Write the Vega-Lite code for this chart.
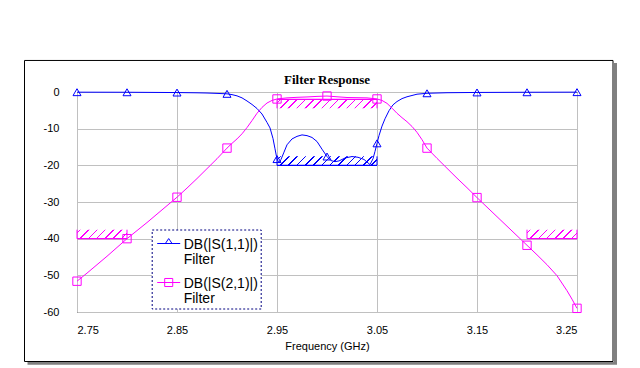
{
  "$schema": "https://vega.github.io/schema/vega-lite/v6.json",
  "width": 500,
  "height": 220,
  "autosize": "none",
  "padding": {"left": 77, "top": 92, "right": 63, "bottom": 56},
  "background": "white",
  "config": {"view": {"stroke": "black", "strokeWidth": 1}, "font": "Liberation Sans"},
  "title": {"text": "Filter Response", "font": "Liberation Serif", "fontSize": 13, "fontWeight": "bold", "color": "black", "anchor": "middle", "offset": 6, "dy": 33},
  "datasets": {
    "curves": [
      {"p": "DB(|S(1,1)|)", "f": 2.75, "db": -0.05},
      {"p": "DB(|S(1,1)|)", "f": 2.8, "db": -0.07},
      {"p": "DB(|S(1,1)|)", "f": 2.85, "db": -0.15},
      {"p": "DB(|S(1,1)|)", "f": 2.87, "db": -0.22},
      {"p": "DB(|S(1,1)|)", "f": 2.88, "db": -0.28},
      {"p": "DB(|S(1,1)|)", "f": 2.89, "db": -0.38},
      {"p": "DB(|S(1,1)|)", "f": 2.9, "db": -0.5},
      {"p": "DB(|S(1,1)|)", "f": 2.905, "db": -0.72},
      {"p": "DB(|S(1,1)|)", "f": 2.91, "db": -1.05},
      {"p": "DB(|S(1,1)|)", "f": 2.915, "db": -1.6},
      {"p": "DB(|S(1,1)|)", "f": 2.92, "db": -2.45},
      {"p": "DB(|S(1,1)|)", "f": 2.925, "db": -3.4},
      {"p": "DB(|S(1,1)|)", "f": 2.93, "db": -4.5},
      {"p": "DB(|S(1,1)|)", "f": 2.935, "db": -6.0},
      {"p": "DB(|S(1,1)|)", "f": 2.94, "db": -8.3},
      {"p": "DB(|S(1,1)|)", "f": 2.943, "db": -9.8},
      {"p": "DB(|S(1,1)|)", "f": 2.946, "db": -12.7},
      {"p": "DB(|S(1,1)|)", "f": 2.948, "db": -15.5},
      {"p": "DB(|S(1,1)|)", "f": 2.95, "db": -18.3},
      {"p": "DB(|S(1,1)|)", "f": 2.952, "db": -19.3},
      {"p": "DB(|S(1,1)|)", "f": 2.954, "db": -18.4},
      {"p": "DB(|S(1,1)|)", "f": 2.957, "db": -16.4},
      {"p": "DB(|S(1,1)|)", "f": 2.96, "db": -14.4},
      {"p": "DB(|S(1,1)|)", "f": 2.965, "db": -12.8},
      {"p": "DB(|S(1,1)|)", "f": 2.97, "db": -12.1},
      {"p": "DB(|S(1,1)|)", "f": 2.975, "db": -11.7},
      {"p": "DB(|S(1,1)|)", "f": 2.98, "db": -11.9},
      {"p": "DB(|S(1,1)|)", "f": 2.985, "db": -12.4},
      {"p": "DB(|S(1,1)|)", "f": 2.99, "db": -13.5},
      {"p": "DB(|S(1,1)|)", "f": 2.995, "db": -15.6},
      {"p": "DB(|S(1,1)|)", "f": 3, "db": -17.6},
      {"p": "DB(|S(1,1)|)", "f": 3.004, "db": -18.7},
      {"p": "DB(|S(1,1)|)", "f": 3.008, "db": -19.0},
      {"p": "DB(|S(1,1)|)", "f": 3.012, "db": -18.8},
      {"p": "DB(|S(1,1)|)", "f": 3.018, "db": -18.0},
      {"p": "DB(|S(1,1)|)", "f": 3.025, "db": -17.6},
      {"p": "DB(|S(1,1)|)", "f": 3.031, "db": -17.8},
      {"p": "DB(|S(1,1)|)", "f": 3.037, "db": -18.4},
      {"p": "DB(|S(1,1)|)", "f": 3.043, "db": -19.8},
      {"p": "DB(|S(1,1)|)", "f": 3.046, "db": -18.2},
      {"p": "DB(|S(1,1)|)", "f": 3.048, "db": -16.2},
      {"p": "DB(|S(1,1)|)", "f": 3.05, "db": -14.0},
      {"p": "DB(|S(1,1)|)", "f": 3.052, "db": -11.9},
      {"p": "DB(|S(1,1)|)", "f": 3.055, "db": -9.3},
      {"p": "DB(|S(1,1)|)", "f": 3.058, "db": -7.3},
      {"p": "DB(|S(1,1)|)", "f": 3.062, "db": -5.1},
      {"p": "DB(|S(1,1)|)", "f": 3.066, "db": -3.5},
      {"p": "DB(|S(1,1)|)", "f": 3.07, "db": -2.6},
      {"p": "DB(|S(1,1)|)", "f": 3.075, "db": -1.8},
      {"p": "DB(|S(1,1)|)", "f": 3.08, "db": -1.3},
      {"p": "DB(|S(1,1)|)", "f": 3.09, "db": -0.6},
      {"p": "DB(|S(1,1)|)", "f": 3.1, "db": -0.35},
      {"p": "DB(|S(1,1)|)", "f": 3.12, "db": -0.2},
      {"p": "DB(|S(1,1)|)", "f": 3.15, "db": -0.12},
      {"p": "DB(|S(1,1)|)", "f": 3.2, "db": -0.07},
      {"p": "DB(|S(1,1)|)", "f": 3.25, "db": -0.04},
      {"p": "DB(|S(2,1)|)", "f": 2.75, "db": -51.6},
      {"p": "DB(|S(2,1)|)", "f": 2.76, "db": -49.4},
      {"p": "DB(|S(2,1)|)", "f": 2.77, "db": -47.1},
      {"p": "DB(|S(2,1)|)", "f": 2.78, "db": -44.8},
      {"p": "DB(|S(2,1)|)", "f": 2.79, "db": -42.4},
      {"p": "DB(|S(2,1)|)", "f": 2.8, "db": -40.0},
      {"p": "DB(|S(2,1)|)", "f": 2.81, "db": -37.8},
      {"p": "DB(|S(2,1)|)", "f": 2.82, "db": -35.6},
      {"p": "DB(|S(2,1)|)", "f": 2.83, "db": -33.3},
      {"p": "DB(|S(2,1)|)", "f": 2.84, "db": -31.0},
      {"p": "DB(|S(2,1)|)", "f": 2.85, "db": -28.7},
      {"p": "DB(|S(2,1)|)", "f": 2.86, "db": -26.2},
      {"p": "DB(|S(2,1)|)", "f": 2.87, "db": -23.6},
      {"p": "DB(|S(2,1)|)", "f": 2.88, "db": -20.9},
      {"p": "DB(|S(2,1)|)", "f": 2.89, "db": -18.2},
      {"p": "DB(|S(2,1)|)", "f": 2.9, "db": -15.3},
      {"p": "DB(|S(2,1)|)", "f": 2.905, "db": -14.0},
      {"p": "DB(|S(2,1)|)", "f": 2.91, "db": -12.8},
      {"p": "DB(|S(2,1)|)", "f": 2.915, "db": -11.4},
      {"p": "DB(|S(2,1)|)", "f": 2.92, "db": -9.7},
      {"p": "DB(|S(2,1)|)", "f": 2.925, "db": -7.8},
      {"p": "DB(|S(2,1)|)", "f": 2.93, "db": -5.8},
      {"p": "DB(|S(2,1)|)", "f": 2.935, "db": -4.2},
      {"p": "DB(|S(2,1)|)", "f": 2.94, "db": -3.0},
      {"p": "DB(|S(2,1)|)", "f": 2.945, "db": -2.3},
      {"p": "DB(|S(2,1)|)", "f": 2.95, "db": -1.9},
      {"p": "DB(|S(2,1)|)", "f": 2.96, "db": -1.6},
      {"p": "DB(|S(2,1)|)", "f": 2.97, "db": -1.45},
      {"p": "DB(|S(2,1)|)", "f": 2.98, "db": -1.35},
      {"p": "DB(|S(2,1)|)", "f": 2.99, "db": -1.2},
      {"p": "DB(|S(2,1)|)", "f": 3, "db": -1.1},
      {"p": "DB(|S(2,1)|)", "f": 3.01, "db": -1.3},
      {"p": "DB(|S(2,1)|)", "f": 3.02, "db": -1.5},
      {"p": "DB(|S(2,1)|)", "f": 3.03, "db": -1.55},
      {"p": "DB(|S(2,1)|)", "f": 3.04, "db": -1.6},
      {"p": "DB(|S(2,1)|)", "f": 3.05, "db": -1.9},
      {"p": "DB(|S(2,1)|)", "f": 3.055, "db": -2.3},
      {"p": "DB(|S(2,1)|)", "f": 3.06, "db": -3.1},
      {"p": "DB(|S(2,1)|)", "f": 3.065, "db": -4.4},
      {"p": "DB(|S(2,1)|)", "f": 3.07, "db": -5.8},
      {"p": "DB(|S(2,1)|)", "f": 3.075, "db": -7.0},
      {"p": "DB(|S(2,1)|)", "f": 3.08, "db": -8.1},
      {"p": "DB(|S(2,1)|)", "f": 3.085, "db": -9.4},
      {"p": "DB(|S(2,1)|)", "f": 3.09, "db": -11.0},
      {"p": "DB(|S(2,1)|)", "f": 3.095, "db": -13.0},
      {"p": "DB(|S(2,1)|)", "f": 3.1, "db": -15.3},
      {"p": "DB(|S(2,1)|)", "f": 3.11, "db": -18.1},
      {"p": "DB(|S(2,1)|)", "f": 3.12, "db": -20.8},
      {"p": "DB(|S(2,1)|)", "f": 3.13, "db": -23.5},
      {"p": "DB(|S(2,1)|)", "f": 3.14, "db": -26.1},
      {"p": "DB(|S(2,1)|)", "f": 3.15, "db": -28.8},
      {"p": "DB(|S(2,1)|)", "f": 3.16, "db": -31.4},
      {"p": "DB(|S(2,1)|)", "f": 3.17, "db": -34.0},
      {"p": "DB(|S(2,1)|)", "f": 3.18, "db": -36.6},
      {"p": "DB(|S(2,1)|)", "f": 3.19, "db": -39.2},
      {"p": "DB(|S(2,1)|)", "f": 3.2, "db": -41.8},
      {"p": "DB(|S(2,1)|)", "f": 3.21, "db": -44.4},
      {"p": "DB(|S(2,1)|)", "f": 3.22, "db": -47.1},
      {"p": "DB(|S(2,1)|)", "f": 3.23, "db": -50.1},
      {"p": "DB(|S(2,1)|)", "f": 3.24, "db": -54.2},
      {"p": "DB(|S(2,1)|)", "f": 3.245, "db": -56.5},
      {"p": "DB(|S(2,1)|)", "f": 3.25, "db": -59.0}
    ],
    "goals": [
      {"g": "S21pass", "p": "DB(|S(2,1)|)", "f1": 2.95, "f2": 3.05, "lvl": -2, "edge": -4.45},
      {"g": "S11pass", "p": "DB(|S(1,1)|)", "f1": 2.95, "f2": 3.05, "lvl": -20, "edge": -17.55},
      {"g": "S21stop", "p": "DB(|S(2,1)|)", "f1": 2.75, "f2": 2.8, "lvl": -40, "edge": -37.55},
      {"g": "S21stop", "p": "DB(|S(2,1)|)", "f1": 3.2, "f2": 3.25, "lvl": -40, "edge": -37.55}
    ]
  },
  "layer": [
    {
      "data": {"values": [{}]},
      "mark": {"type": "rule", "stroke": "#808080", "strokeWidth": 3},
      "encoding": {
        "x": {"datum": 3.2885, "type": "quantitative", "scale": {"domain": [2.75, 3.25], "nice": false, "zero": false}},
        "y": {"datum": 7.9, "type": "quantitative", "scale": {"domain": [-60, 0], "nice": false, "zero": false},
          "axis": {"values": [-60, -50, -40, -30, -20, -10, 0], "labelExpr": "'' + datum.value", "grid": true, "gridColor": "#C0C0C0", "gridWidth": 1, "domain": false, "ticks": false, "labelFont": "Liberation Sans", "labelFontSize": 11, "labelColor": "black", "labelPadding": 18, "title": null}},
        "y2": {"datum": -73.9}
      }
    },
    {
      "data": {"values": [{}]},
      "mark": {"type": "rule", "stroke": "#808080", "strokeWidth": 3},
      "encoding": {
        "x": {"datum": 2.7005, "type": "quantitative", "scale": {"domain": [2.75, 3.25], "nice": false, "zero": false}},
        "x2": {"datum": 3.29},
        "y": {"datum": -73.95, "type": "quantitative", "scale": {"domain": [-60, 0], "nice": false, "zero": false},
          "axis": {"values": [-60, -50, -40, -30, -20, -10, 0], "labelExpr": "'' + datum.value", "grid": true, "gridColor": "#C0C0C0", "gridWidth": 1, "domain": false, "ticks": false, "labelFont": "Liberation Sans", "labelFontSize": 11, "labelColor": "black", "labelPadding": 18, "title": null}}
      }
    },
    {
      "data": {"values": [{}]},
      "mark": {"type": "rect", "fill": null, "stroke": "black", "strokeWidth": 1},
      "encoding": {
        "x": {"datum": 2.6975, "type": "quantitative", "scale": {"domain": [2.75, 3.25], "nice": false, "zero": false}},
        "x2": {"datum": 3.286},
        "y": {"datum": 8.6, "type": "quantitative", "scale": {"domain": [-60, 0], "nice": false, "zero": false},
          "axis": {"values": [-60, -50, -40, -30, -20, -10, 0], "labelExpr": "'' + datum.value", "grid": true, "gridColor": "#C0C0C0", "gridWidth": 1, "domain": false, "ticks": false, "labelFont": "Liberation Sans", "labelFontSize": 11, "labelColor": "black", "labelPadding": 18, "title": null}},
        "y2": {"datum": -73.5}
      }
    },
    {
      "data": {"name": "goals"},
      "transform": [{"filter": "datum.g === 'S21pass'"}],
      "mark": {"type": "rect", "strokeWidth": 0, "fill": {"gradient": "linear", "x1": 0, "y1": 0, "x2": 1.081, "y2": 0.0973, "stops": [
        {"offset": 0, "color": "rgba(255,0,255,0)"},
        {"offset": 0.028, "color": "rgba(255,0,255,0)"}, {"offset": 0.028, "color": "#FF00FF"}, {"offset": 0.042, "color": "#FF00FF"}, {"offset": 0.042, "color": "rgba(255,0,255,0)"},
        {"offset": 0.104, "color": "rgba(255,0,255,0)"}, {"offset": 0.104, "color": "#FF00FF"}, {"offset": 0.118, "color": "#FF00FF"}, {"offset": 0.118, "color": "rgba(255,0,255,0)"},
        {"offset": 0.180, "color": "rgba(255,0,255,0)"}, {"offset": 0.180, "color": "#FF00FF"}, {"offset": 0.194, "color": "#FF00FF"}, {"offset": 0.194, "color": "rgba(255,0,255,0)"},
        {"offset": 0.257, "color": "rgba(255,0,255,0)"}, {"offset": 0.257, "color": "#FF00FF"}, {"offset": 0.271, "color": "#FF00FF"}, {"offset": 0.271, "color": "rgba(255,0,255,0)"},
        {"offset": 0.333, "color": "rgba(255,0,255,0)"}, {"offset": 0.333, "color": "#FF00FF"}, {"offset": 0.347, "color": "#FF00FF"}, {"offset": 0.347, "color": "rgba(255,0,255,0)"},
        {"offset": 0.409, "color": "rgba(255,0,255,0)"}, {"offset": 0.409, "color": "#FF00FF"}, {"offset": 0.423, "color": "#FF00FF"}, {"offset": 0.423, "color": "rgba(255,0,255,0)"},
        {"offset": 0.485, "color": "rgba(255,0,255,0)"}, {"offset": 0.485, "color": "#FF00FF"}, {"offset": 0.499, "color": "#FF00FF"}, {"offset": 0.499, "color": "rgba(255,0,255,0)"},
        {"offset": 0.561, "color": "rgba(255,0,255,0)"}, {"offset": 0.561, "color": "#FF00FF"}, {"offset": 0.575, "color": "#FF00FF"}, {"offset": 0.575, "color": "rgba(255,0,255,0)"},
        {"offset": 0.638, "color": "rgba(255,0,255,0)"}, {"offset": 0.638, "color": "#FF00FF"}, {"offset": 0.652, "color": "#FF00FF"}, {"offset": 0.652, "color": "rgba(255,0,255,0)"},
        {"offset": 0.714, "color": "rgba(255,0,255,0)"}, {"offset": 0.714, "color": "#FF00FF"}, {"offset": 0.728, "color": "#FF00FF"}, {"offset": 0.728, "color": "rgba(255,0,255,0)"},
        {"offset": 0.790, "color": "rgba(255,0,255,0)"}, {"offset": 0.790, "color": "#FF00FF"}, {"offset": 0.804, "color": "#FF00FF"}, {"offset": 0.804, "color": "rgba(255,0,255,0)"},
        {"offset": 0.866, "color": "rgba(255,0,255,0)"}, {"offset": 0.866, "color": "#FF00FF"}, {"offset": 0.880, "color": "#FF00FF"}, {"offset": 0.880, "color": "rgba(255,0,255,0)"},
        {"offset": 0.942, "color": "rgba(255,0,255,0)"}, {"offset": 0.942, "color": "#FF00FF"}, {"offset": 0.956, "color": "#FF00FF"}, {"offset": 0.956, "color": "rgba(255,0,255,0)"},
        {"offset": 1, "color": "rgba(255,0,255,0)"}
      ]}},
      "encoding": {
        "x": {"field": "f1", "type": "quantitative", "scale": {"domain": [2.75, 3.25], "nice": false, "zero": false}},
        "x2": {"field": "f2"},
        "y": {"field": "lvl", "type": "quantitative", "scale": {"domain": [-60, 0], "nice": false, "zero": false},
          "axis": {"values": [-60, -50, -40, -30, -20, -10, 0], "labelExpr": "'' + datum.value", "grid": true, "gridColor": "#C0C0C0", "gridWidth": 1, "domain": false, "ticks": false, "labelFont": "Liberation Sans", "labelFontSize": 11, "labelColor": "black", "labelPadding": 18, "title": null}},
        "y2": {"field": "edge"}
      }
    },
    {
      "data": {"name": "goals"},
      "transform": [{"filter": "datum.g === 'S11pass'"}],
      "mark": {"type": "rect", "strokeWidth": 0, "fill": {"gradient": "linear", "x1": 0, "y1": 0, "x2": 1.081, "y2": 0.0973, "stops": [
        {"offset": 0, "color": "rgba(0,0,255,0)"},
        {"offset": 0.028, "color": "rgba(0,0,255,0)"}, {"offset": 0.028, "color": "#0000FF"}, {"offset": 0.042, "color": "#0000FF"}, {"offset": 0.042, "color": "rgba(0,0,255,0)"},
        {"offset": 0.104, "color": "rgba(0,0,255,0)"}, {"offset": 0.104, "color": "#0000FF"}, {"offset": 0.118, "color": "#0000FF"}, {"offset": 0.118, "color": "rgba(0,0,255,0)"},
        {"offset": 0.180, "color": "rgba(0,0,255,0)"}, {"offset": 0.180, "color": "#0000FF"}, {"offset": 0.194, "color": "#0000FF"}, {"offset": 0.194, "color": "rgba(0,0,255,0)"},
        {"offset": 0.257, "color": "rgba(0,0,255,0)"}, {"offset": 0.257, "color": "#0000FF"}, {"offset": 0.271, "color": "#0000FF"}, {"offset": 0.271, "color": "rgba(0,0,255,0)"},
        {"offset": 0.333, "color": "rgba(0,0,255,0)"}, {"offset": 0.333, "color": "#0000FF"}, {"offset": 0.347, "color": "#0000FF"}, {"offset": 0.347, "color": "rgba(0,0,255,0)"},
        {"offset": 0.409, "color": "rgba(0,0,255,0)"}, {"offset": 0.409, "color": "#0000FF"}, {"offset": 0.423, "color": "#0000FF"}, {"offset": 0.423, "color": "rgba(0,0,255,0)"},
        {"offset": 0.485, "color": "rgba(0,0,255,0)"}, {"offset": 0.485, "color": "#0000FF"}, {"offset": 0.499, "color": "#0000FF"}, {"offset": 0.499, "color": "rgba(0,0,255,0)"},
        {"offset": 0.561, "color": "rgba(0,0,255,0)"}, {"offset": 0.561, "color": "#0000FF"}, {"offset": 0.575, "color": "#0000FF"}, {"offset": 0.575, "color": "rgba(0,0,255,0)"},
        {"offset": 0.638, "color": "rgba(0,0,255,0)"}, {"offset": 0.638, "color": "#0000FF"}, {"offset": 0.652, "color": "#0000FF"}, {"offset": 0.652, "color": "rgba(0,0,255,0)"},
        {"offset": 0.714, "color": "rgba(0,0,255,0)"}, {"offset": 0.714, "color": "#0000FF"}, {"offset": 0.728, "color": "#0000FF"}, {"offset": 0.728, "color": "rgba(0,0,255,0)"},
        {"offset": 0.790, "color": "rgba(0,0,255,0)"}, {"offset": 0.790, "color": "#0000FF"}, {"offset": 0.804, "color": "#0000FF"}, {"offset": 0.804, "color": "rgba(0,0,255,0)"},
        {"offset": 0.866, "color": "rgba(0,0,255,0)"}, {"offset": 0.866, "color": "#0000FF"}, {"offset": 0.880, "color": "#0000FF"}, {"offset": 0.880, "color": "rgba(0,0,255,0)"},
        {"offset": 0.942, "color": "rgba(0,0,255,0)"}, {"offset": 0.942, "color": "#0000FF"}, {"offset": 0.956, "color": "#0000FF"}, {"offset": 0.956, "color": "rgba(0,0,255,0)"},
        {"offset": 1, "color": "rgba(0,0,255,0)"}
      ]}},
      "encoding": {
        "x": {"field": "f1", "type": "quantitative", "scale": {"domain": [2.75, 3.25], "nice": false, "zero": false}},
        "x2": {"field": "f2"},
        "y": {"field": "edge", "type": "quantitative", "scale": {"domain": [-60, 0], "nice": false, "zero": false},
          "axis": {"values": [-60, -50, -40, -30, -20, -10, 0], "labelExpr": "'' + datum.value", "grid": true, "gridColor": "#C0C0C0", "gridWidth": 1, "domain": false, "ticks": false, "labelFont": "Liberation Sans", "labelFontSize": 11, "labelColor": "black", "labelPadding": 18, "title": null}},
        "y2": {"field": "lvl"}
      }
    },
    {
      "data": {"name": "goals"},
      "transform": [{"filter": "datum.g === 'S21stop'"}],
      "mark": {"type": "rect", "strokeWidth": 0, "fill": {"gradient": "linear", "x1": 0, "y1": 0, "x2": 1.143, "y2": 0.2057, "stops": [
        {"offset": 0, "color": "rgba(255,0,255,0)"},
        {"offset": 0.0473, "color": "rgba(255,0,255,0)"}, {"offset": 0.0473, "color": "#FF00FF"}, {"offset": 0.0727, "color": "#FF00FF"}, {"offset": 0.0727, "color": "rgba(255,0,255,0)"},
        {"offset": 0.188, "color": "rgba(255,0,255,0)"}, {"offset": 0.188, "color": "#FF00FF"}, {"offset": 0.2134, "color": "#FF00FF"}, {"offset": 0.2134, "color": "rgba(255,0,255,0)"},
        {"offset": 0.3287, "color": "rgba(255,0,255,0)"}, {"offset": 0.3287, "color": "#FF00FF"}, {"offset": 0.3541, "color": "#FF00FF"}, {"offset": 0.3541, "color": "rgba(255,0,255,0)"},
        {"offset": 0.4694, "color": "rgba(255,0,255,0)"}, {"offset": 0.4694, "color": "#FF00FF"}, {"offset": 0.4948, "color": "#FF00FF"}, {"offset": 0.4948, "color": "rgba(255,0,255,0)"},
        {"offset": 0.6101, "color": "rgba(255,0,255,0)"}, {"offset": 0.6101, "color": "#FF00FF"}, {"offset": 0.6355, "color": "#FF00FF"}, {"offset": 0.6355, "color": "rgba(255,0,255,0)"},
        {"offset": 0.7508, "color": "rgba(255,0,255,0)"}, {"offset": 0.7508, "color": "#FF00FF"}, {"offset": 0.7762, "color": "#FF00FF"}, {"offset": 0.7762, "color": "rgba(255,0,255,0)"},
        {"offset": 0.8915, "color": "rgba(255,0,255,0)"}, {"offset": 0.8915, "color": "#FF00FF"}, {"offset": 0.9169, "color": "#FF00FF"}, {"offset": 0.9169, "color": "rgba(255,0,255,0)"},
        {"offset": 1, "color": "rgba(255,0,255,0)"}
      ]}},
      "encoding": {
        "x": {"field": "f1", "type": "quantitative", "scale": {"domain": [2.75, 3.25], "nice": false, "zero": false}},
        "x2": {"field": "f2"},
        "y": {"field": "edge", "type": "quantitative", "scale": {"domain": [-60, 0], "nice": false, "zero": false},
          "axis": {"values": [-60, -50, -40, -30, -20, -10, 0], "labelExpr": "'' + datum.value", "grid": true, "gridColor": "#C0C0C0", "gridWidth": 1, "domain": false, "ticks": false, "labelFont": "Liberation Sans", "labelFontSize": 11, "labelColor": "black", "labelPadding": 18, "title": null}},
        "y2": {"field": "lvl"}
      }
    },
    {
      "data": {"name": "goals"},
      "mark": {"type": "rule", "strokeWidth": 1.3},
      "encoding": {
        "x": {"field": "f1", "type": "quantitative", "scale": {"domain": [2.75, 3.25], "nice": false, "zero": false}},
        "x2": {"field": "f2"},
        "y": {"field": "lvl", "type": "quantitative", "scale": {"domain": [-60, 0], "nice": false, "zero": false},
          "axis": {"values": [-60, -50, -40, -30, -20, -10, 0], "labelExpr": "'' + datum.value", "grid": true, "gridColor": "#C0C0C0", "gridWidth": 1, "domain": false, "ticks": false, "labelFont": "Liberation Sans", "labelFontSize": 11, "labelColor": "black", "labelPadding": 18, "title": null}},
        "color": {"field": "p", "type": "nominal", "scale": {"domain": ["DB(|S(1,1)|)", "DB(|S(2,1)|)"], "range": ["#0000FF", "#FF00FF"]}}
      }
    },
    {
      "data": {"name": "goals"},
      "mark": {"type": "rule", "strokeWidth": 1},
      "encoding": {
        "x": {"field": "f1", "type": "quantitative", "scale": {"domain": [2.75, 3.25], "nice": false, "zero": false}},
        "y": {"field": "lvl", "type": "quantitative", "scale": {"domain": [-60, 0], "nice": false, "zero": false},
          "axis": {"values": [-60, -50, -40, -30, -20, -10, 0], "labelExpr": "'' + datum.value", "grid": true, "gridColor": "#C0C0C0", "gridWidth": 1, "domain": false, "ticks": false, "labelFont": "Liberation Sans", "labelFontSize": 11, "labelColor": "black", "labelPadding": 18, "title": null}},
        "y2": {"field": "edge"},
        "color": {"field": "p", "type": "nominal", "scale": {"domain": ["DB(|S(1,1)|)", "DB(|S(2,1)|)"], "range": ["#0000FF", "#FF00FF"]}}
      }
    },
    {
      "data": {"name": "goals"},
      "mark": {"type": "rule", "strokeWidth": 1},
      "encoding": {
        "x": {"field": "f2", "type": "quantitative", "scale": {"domain": [2.75, 3.25], "nice": false, "zero": false}},
        "y": {"field": "lvl", "type": "quantitative", "scale": {"domain": [-60, 0], "nice": false, "zero": false},
          "axis": {"values": [-60, -50, -40, -30, -20, -10, 0], "labelExpr": "'' + datum.value", "grid": true, "gridColor": "#C0C0C0", "gridWidth": 1, "domain": false, "ticks": false, "labelFont": "Liberation Sans", "labelFontSize": 11, "labelColor": "black", "labelPadding": 18, "title": null}},
        "y2": {"field": "edge"},
        "color": {"field": "p", "type": "nominal", "scale": {"domain": ["DB(|S(1,1)|)", "DB(|S(2,1)|)"], "range": ["#0000FF", "#FF00FF"]}}
      }
    },
    {
      "data": {"name": "curves"},
      "mark": {"type": "line", "strokeWidth": 1},
      "encoding": {
        "x": {"field": "f", "type": "quantitative", "scale": {"domain": [2.75, 3.25], "nice": false, "zero": false},
          "axis": {"values": [2.75, 2.85, 2.95, 3.05, 3.15, 3.25], "format": ".2f", "grid": true, "gridColor": "#C0C0C0", "gridWidth": 1, "domain": false, "ticks": false, "labelFont": "Liberation Sans", "labelFontSize": 11, "labelColor": "black", "labelPadding": 12, "title": "Frequency (GHz)", "titleFont": "Liberation Sans", "titleFontSize": 11, "titleFontWeight": "normal", "titleColor": "black", "titlePadding": 5}},
        "y": {"field": "db", "type": "quantitative", "scale": {"domain": [-60, 0], "nice": false, "zero": false},
          "axis": {"values": [-60, -50, -40, -30, -20, -10, 0], "labelExpr": "'' + datum.value", "grid": true, "gridColor": "#C0C0C0", "gridWidth": 1, "domain": false, "ticks": false, "labelFont": "Liberation Sans", "labelFontSize": 11, "labelColor": "black", "labelPadding": 18, "title": null}},
        "color": {"field": "p", "type": "nominal", "scale": {"domain": ["DB(|S(1,1)|)", "DB(|S(2,1)|)"], "range": ["#0000FF", "#FF00FF"]},
          "legend": {"orient": "none", "legendX": 74.7, "legendY": 137.5, "title": null, "padding": 2, "symbolOffset": 3, "fillColor": "white", "strokeColor": "#000080", "symbolSize": 529, "symbolStrokeWidth": 1, "labelFont": "Liberation Sans", "labelFontSize": 14, "labelColor": "black", "labelOffset": 3, "rowPadding": 3, "labelExpr": "[datum.label, 'Filter']",
            "encode": {
              "symbols": {"update": {"shape": {"signal": "datum.value === 'DB(|S(1,1)|)' ? 'M-1,0H1M-0.29,0L0,-0.43L0.29,0Z' : 'M-1,0H1M-0.35,-0.35H0.35V0.35H-0.35Z'"}, "fill": {"value": "transparent"}, "strokeWidth": {"value": 1}}},
              "labels": {"update": {"lineHeight": {"value": 15}, "dy": {"value": 1.5}}},
              "legend": {"update": {"strokeDash": {"value": [2, 2]}, "strokeWidth": {"value": 1}}}
            }}}
      }
    },
    {
      "data": {"name": "curves"},
      "transform": [{"filter": "datum.p === 'DB(|S(1,1)|)'"}, {"filter": {"field": "f", "oneOf": [2.75, 2.8, 2.85, 2.9, 2.95, 3, 3.05, 3.1, 3.15, 3.2, 3.25]}}],
      "mark": {"type": "point", "shape": "triangle-up", "filled": false, "strokeWidth": 1, "size": 64, "opacity": 1},
      "encoding": {
        "x": {"field": "f", "type": "quantitative", "scale": {"domain": [2.75, 3.25], "nice": false, "zero": false}},
        "y": {"field": "db", "type": "quantitative", "scale": {"domain": [-60, 0], "nice": false, "zero": false},
          "axis": {"values": [-60, -50, -40, -30, -20, -10, 0], "labelExpr": "'' + datum.value", "grid": true, "gridColor": "#C0C0C0", "gridWidth": 1, "domain": false, "ticks": false, "labelFont": "Liberation Sans", "labelFontSize": 11, "labelColor": "black", "labelPadding": 18, "title": null}},
        "color": {"field": "p", "type": "nominal", "scale": {"domain": ["DB(|S(1,1)|)", "DB(|S(2,1)|)"], "range": ["#0000FF", "#FF00FF"]}}
      }
    },
    {
      "data": {"name": "curves"},
      "transform": [{"filter": "datum.p === 'DB(|S(2,1)|)'"}, {"filter": {"field": "f", "oneOf": [2.75, 2.8, 2.85, 2.9, 2.95, 3, 3.05, 3.1, 3.15, 3.2, 3.25]}}],
      "mark": {"type": "point", "shape": "square", "filled": false, "strokeWidth": 1, "size": 70, "opacity": 1},
      "encoding": {
        "x": {"field": "f", "type": "quantitative", "scale": {"domain": [2.75, 3.25], "nice": false, "zero": false}},
        "y": {"field": "db", "type": "quantitative", "scale": {"domain": [-60, 0], "nice": false, "zero": false},
          "axis": {"values": [-60, -50, -40, -30, -20, -10, 0], "labelExpr": "'' + datum.value", "grid": true, "gridColor": "#C0C0C0", "gridWidth": 1, "domain": false, "ticks": false, "labelFont": "Liberation Sans", "labelFontSize": 11, "labelColor": "black", "labelPadding": 18, "title": null}},
        "color": {"field": "p", "type": "nominal", "scale": {"domain": ["DB(|S(1,1)|)", "DB(|S(2,1)|)"], "range": ["#0000FF", "#FF00FF"]}}
      }
    }
  ]
}
